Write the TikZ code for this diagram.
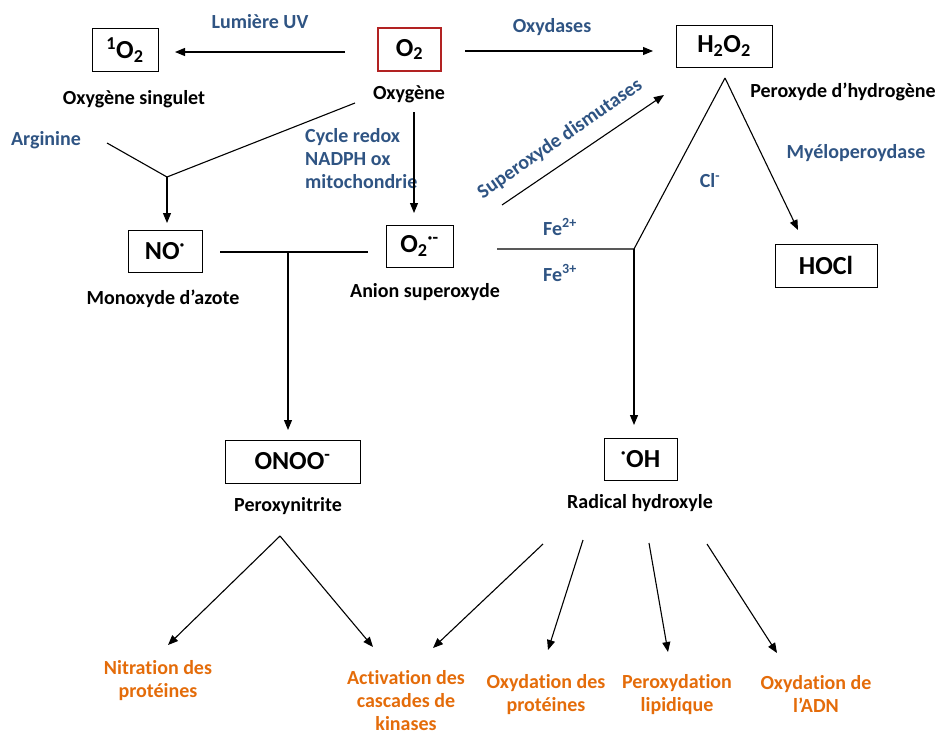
\documentclass[tikz,border=0pt]{standalone}
\usepackage{fontspec}
\setmainfont{Carlito}[Ligatures={NoCommon}]
\usetikzlibrary{arrows.meta}
\definecolor{lblblue}{HTML}{2F5483}
\definecolor{lblorange}{HTML}{E46C0A}
\definecolor{boxred}{HTML}{B22222}
\begin{document}
\begin{tikzpicture}[x=1pt,y=-1pt,
 species/.style={draw=black, line width=1pt, font=\fontsize{26}{30}\selectfont\bfseries, inner sep=0pt},
 lbl/.style={font=\fontsize{20}{23}\selectfont\bfseries, inner sep=0pt},
 bluelbl/.style={lbl, text=lblblue},
 orangelbl/.style={lbl, text=lblorange, align=center},
 arr/.style={-{Triangle[length=10pt,width=8pt]}, line width=1.1pt},
 ln/.style={line width=1.1pt}]
\useasboundingbox (0,0) rectangle (941,731);
% species boxes
\node[species, minimum width=66pt, minimum height=43pt] (s1O2) at (125,50) {\textsuperscript{1}O\textsubscript{2}};
\node[species, draw=boxred, line width=2pt, minimum width=63pt, minimum height=43pt] (sO2) at (409.5,49.5) {O\textsubscript{2}};
\node[species, minimum width=96pt, minimum height=42pt] (sH2O2) at (724,46) {H\textsubscript{2}O\textsubscript{2}};
\node[species, minimum width=74pt, minimum height=42pt] (sNO) at (165,251) {NO\textsuperscript{·}};
\node[species, minimum width=67pt, minimum height=42pt] (sO2m) at (419.5,246) {O\textsubscript{2}\textsuperscript{·-}};
\node[species, minimum width=102pt, minimum height=43pt] (sHOCl) at (826,265.5) {HOCl};
\node[species, minimum width=135pt, minimum height=43pt] (sONOO) at (292.5,461.5) {ONOO\textsuperscript{-}};
\node[species, minimum width=73pt, minimum height=42pt] (sOH) at (640.5,459) {\textsuperscript{·}OH};
% black labels
\node[lbl] (l1O2) at (134,99) {Oxygène singulet};
\node[lbl] (lO2) at (409,94) {Oxygène};
\node[lbl] (lH2O2) at (843,92) {Peroxyde d’hydrogène};
\node[lbl] (lNO) at (163,299) {Monoxyde d’azote};
\node[lbl] (lO2m) at (425,292) {Anion superoxyde};
\node[lbl] (lONOO) at (288,506) {Peroxynitrite};
\node[lbl] (lOH) at (640,503) {Radical hydroxyle};
% blue labels
\node[bluelbl] (bUV) at (260,22) {Lumière UV};
\node[bluelbl] (bOx) at (552,27) {Oxydases};
\node[bluelbl] (bArg) at (46,140) {Arginine};
\node[bluelbl, anchor=west, align=left] (bCyc) at (305,159) {Cycle redox\\NADPH ox\\mitochondrie};
\node[bluelbl] (bMye) at (856,153) {Myéloperoydase};
\node[bluelbl] (bCl) at (710,181) {Cl\textsuperscript{-}};
\node[bluelbl] (bFe2) at (560,227) {Fe\textsuperscript{2+}};
\node[bluelbl] (bFe3) at (560,273) {Fe\textsuperscript{3+}};
\node[bluelbl, rotate=34.7] (bSOD) at (560,139) {Superoxyde dismutases};
% orange labels
\node[orangelbl] (oNit) at (158,681) {Nitration des\\protéines};
\node[orangelbl] (oKin) at (406,701) {Activation des\\cascades de\\kinases};
\node[orangelbl] (oProt) at (546,695) {Oxydation des\\protéines};
\node[orangelbl] (oLip) at (677,695) {Peroxydation\\lipidique};
\node[orangelbl] (oADN) at (816,694) {Oxydation de\\l’ADN};
% coordinates
\coordinate (cUVs) at (345,52);
\coordinate (cUVe) at (175,52);
\coordinate (cOxs) at (465,51);
\coordinate (cOxe) at (653,51);
\coordinate (cSODs) at (502,205);
\coordinate (cSODe) at (664,95);
\coordinate (cCycs) at (414,112);
\coordinate (cCyce) at (414,213);
\coordinate (cArgs) at (107,143);
\coordinate (jArg) at (167,177);
\coordinate (cArgO) at (355,103);
\coordinate (cArge) at (167,223);
\coordinate (cNOs) at (220,252);
\coordinate (cNOe) at (368,252);
\coordinate (jNO) at (288,252);
\coordinate (cONe) at (288,430);
\coordinate (cFes) at (497,249);
\coordinate (jFe) at (634,249);
\coordinate (tH) at (725,78);
\coordinate (cOHe) at (634,425);
\coordinate (cHOe) at (798,230);
\coordinate (tP) at (280,536);
\coordinate (cNite) at (168,645);
\coordinate (cKin1) at (373,647);
\coordinate (r1s) at (543,544);
\coordinate (r1e) at (433,648);
\coordinate (r2s) at (583,540);
\coordinate (r2e) at (548,650);
\coordinate (r3s) at (649,543);
\coordinate (r3e) at (668,652);
\coordinate (r4s) at (707,544);
\coordinate (r4e) at (777,653);
% connectors
\draw[arr] (cUVs) -- (cUVe);
\draw[arr] (cOxs) -- (cOxe);
\draw[arr] (cSODs) -- (cSODe);
\draw[arr] (cCycs) -- (cCyce);
\draw[ln] (cArgs) -- (jArg) -- (cArgO);
\draw[arr] (jArg) -- (cArge);
\draw[ln] (cNOs) -- (cNOe);
\draw[arr] (jNO) -- (cONe);
\draw[ln] (cFes) -- (jFe) -- (tH);
\draw[arr] (jFe) -- (cOHe);
\draw[arr] (tH) -- (cHOe);
\draw[arr] (tP) -- (cNite);
\draw[arr] (tP) -- (cKin1);
\draw[arr] (r1s) -- (r1e);
\draw[arr] (r2s) -- (r2e);
\draw[arr] (r3s) -- (r3e);
\draw[arr] (r4s) -- (r4e);
\end{tikzpicture}
\end{document}
